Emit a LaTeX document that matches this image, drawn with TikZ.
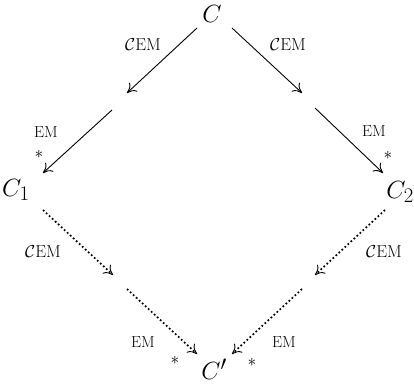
\documentclass[tikz,border=0pt]{standalone}
\usetikzlibrary{arrows.meta}
\begin{document}
\begin{tikzpicture}[x=1pt,y=-1pt,
  obj/.style={inner sep=0pt,font=\fontsize{28}{30}\selectfont},
  lab/.style={inner sep=0pt,font=\fontsize{16}{18}\selectfont},
  tipstyle/.style={-{Computer Modern Rightarrow[length=9pt,width=12pt,line width=0.9pt]}},
  solidarr/.style={tipstyle,line width=0.9pt},
  dotarr/.style={tipstyle,line width=1.7pt,dash pattern=on 1.7pt off 2.4pt}]
\useasboundingbox (0,0) rectangle (414,387);
\node[obj] (C) at (212,14) {$C$};
\node[obj,anchor=west] (C1) at (2,190) {$C_1$};
\node[obj,anchor=east] (C2) at (414,192) {$C_2$};
\node[obj] (Cp) at (214,369) {$C'$};
% path points
\coordinate (a1) at (197,28); \coordinate (a2) at (127,93);
\coordinate (a3) at (112,110); \coordinate (a4) at (43,173);
\coordinate (b1) at (232,28); \coordinate (b2) at (302,93);
\coordinate (b3) at (315,108); \coordinate (b4) at (383,173);
\coordinate (c1) at (43,210); \coordinate (c2) at (113,275);
\coordinate (c3) at (127,289); \coordinate (c4) at (197,354);
\coordinate (d1) at (385,210); \coordinate (d2) at (315,275);
\coordinate (d3) at (302,289); \coordinate (d4) at (232,354);
\draw[solidarr] (a1) -- (a2);
\draw[solidarr] (a3) -- (a4);
\draw[solidarr] (b1) -- (b2);
\draw[solidarr] (b3) -- (b4);
\draw[dotarr] (c1) -- (c2);
\draw[dotarr] (c3) -- (c4);
\draw[dotarr] (d1) -- (d2);
\draw[dotarr] (d3) -- (d4);
% labels
\node[lab] (l1) at (143,45) {$\mathcal{C}\mathrm{EM}$};
\node[lab] (l2) at (288,45) {$\mathcal{C}\mathrm{EM}$};
\node[lab] (l3) at (46,132) {EM};
\node[lab] (s3) at (39,154) {$*$};
\node[lab] (l4) at (374,131) {EM};
\node[lab] (s4) at (388,155) {$*$};
\node[lab] (l5) at (43,252) {$\mathcal{C}\mathrm{EM}$};
\node[lab] (l6) at (384,252) {$\mathcal{C}\mathrm{EM}$};
\node[lab] (l7) at (143,342) {EM};
\node[lab] (s7) at (175,360) {$*$};
\node[lab] (l8) at (284,342) {EM};
\node[lab] (s8) at (252,362) {$*$};
\end{tikzpicture}
\end{document}
